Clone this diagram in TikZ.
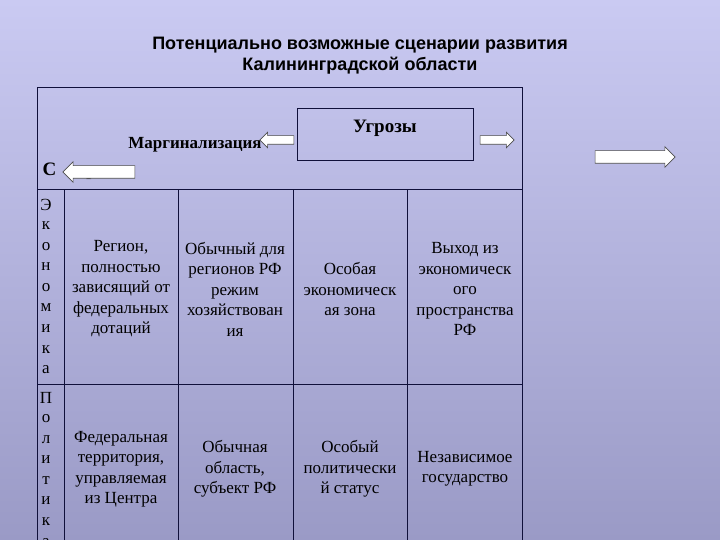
\documentclass[tikz,border=0pt]{standalone}
\usepackage{fontspec}
\setmainfont{Liberation Serif}
\newfontfamily\titlefont{Liberation Sans}
\usetikzlibrary{shapes.arrows}
\definecolor{bgtop}{HTML}{CACAF2}
\definecolor{bgbot}{HTML}{9A9AC6}
\definecolor{ln}{HTML}{10103A}
\tikzset{
  cell/.style={align=center,font=\fontsize{17}{20.5}\selectfont,text=black},
  letter/.style={font=\fontsize{17}{18}\selectfont,text=black},
  warrow/.style={single arrow,draw=black!70,fill=white,line width=0.6pt,minimum height=#1,inner sep=0pt,single arrow head extend=3.5pt},
  grid/.style={draw=ln,line width=1pt}
}
\begin{document}
\begin{tikzpicture}[x=1pt,y=-1pt]
\shade[top color=bgtop,bottom color=bgbot] (0,0) rectangle (720,540);
\useasboundingbox (0,0) rectangle (720,540);
\node[font=\titlefont\bfseries\fontsize{18}{21}\selectfont,align=center] (title) at (360,56) {Потенциально возможные сценарии развития\\Калининградской области};
% table
\draw[grid] (37,545) -- (37,88) -- (522,88) -- (522,545);
\draw[grid] (37,190) -- (522,190);
\draw[grid] (37,384) -- (522,384);
\foreach \x in {64,178,293,407} \draw[grid] (\x,190) -- (\x,545);
% header
\node[draw=ln,line width=0.8pt,minimum width=176pt,minimum height=52pt] (ugr) at (385,134) {};
\node[font=\bfseries\fontsize{19}{20}\selectfont] (ugrt) at (385,128) {Угрозы};
\node[font=\bfseries\fontsize{17}{18}\selectfont] (marg) at (195,145) {Маргинализация};
\node[font=\bfseries\fontsize{19}{20}\selectfont,anchor=west] (st) at (39,171) {С\hspace{30pt}р};
\node[warrow=34pt,shape border rotate=180] (a1) at (279,140) {\rule{0pt}{8pt}};
\node[warrow=34pt] (a2) at (495,140) {\rule{0pt}{8pt}};
\node[warrow=72pt,shape border rotate=180,single arrow head extend=4pt] (a3) at (102,172) {\rule{0pt}{12pt}};
\node[warrow=80pt,single arrow head extend=4pt] (a4) at (632,157) {\rule{0pt}{12pt}};
% left letters
\foreach \l [count=\i] in {Э,к,о,н,о,м,и,к,а} \node[letter] at (46,205+20.6*\i-20.6) {\l};
\foreach \l [count=\i] in {П,о,л,и,т,и,к,а} \node[letter] at (46,398+20.6*\i-20.6) {\l};
% economy row
\node[cell] (e1) at (121,289) {Регион,\\полностью\\зависящий от\\федеральных\\дотаций};
\node[cell] (e2) at (235,289) {Обычный для\\регионов РФ\\режим\\хозяйствован\\ия};
\node[cell] (e3) at (350,289) {Особая\\экономическ\\ая зона};
\node[cell] (e4) at (465,289) {Выход из\\экономическ\\ого\\пространства\\РФ};
% politics row
\node[cell] (p1) at (121,469) {Федеральная\\территория,\\управляемая\\из Центра};
\node[cell] (p2) at (235,469) {Обычная\\область,\\субъект РФ};
\node[cell] (p3) at (350,469) {Особый\\политически\\й статус};
\node[cell] (p4) at (465,469) {Независимое\\государство};
\end{tikzpicture}
\end{document}
